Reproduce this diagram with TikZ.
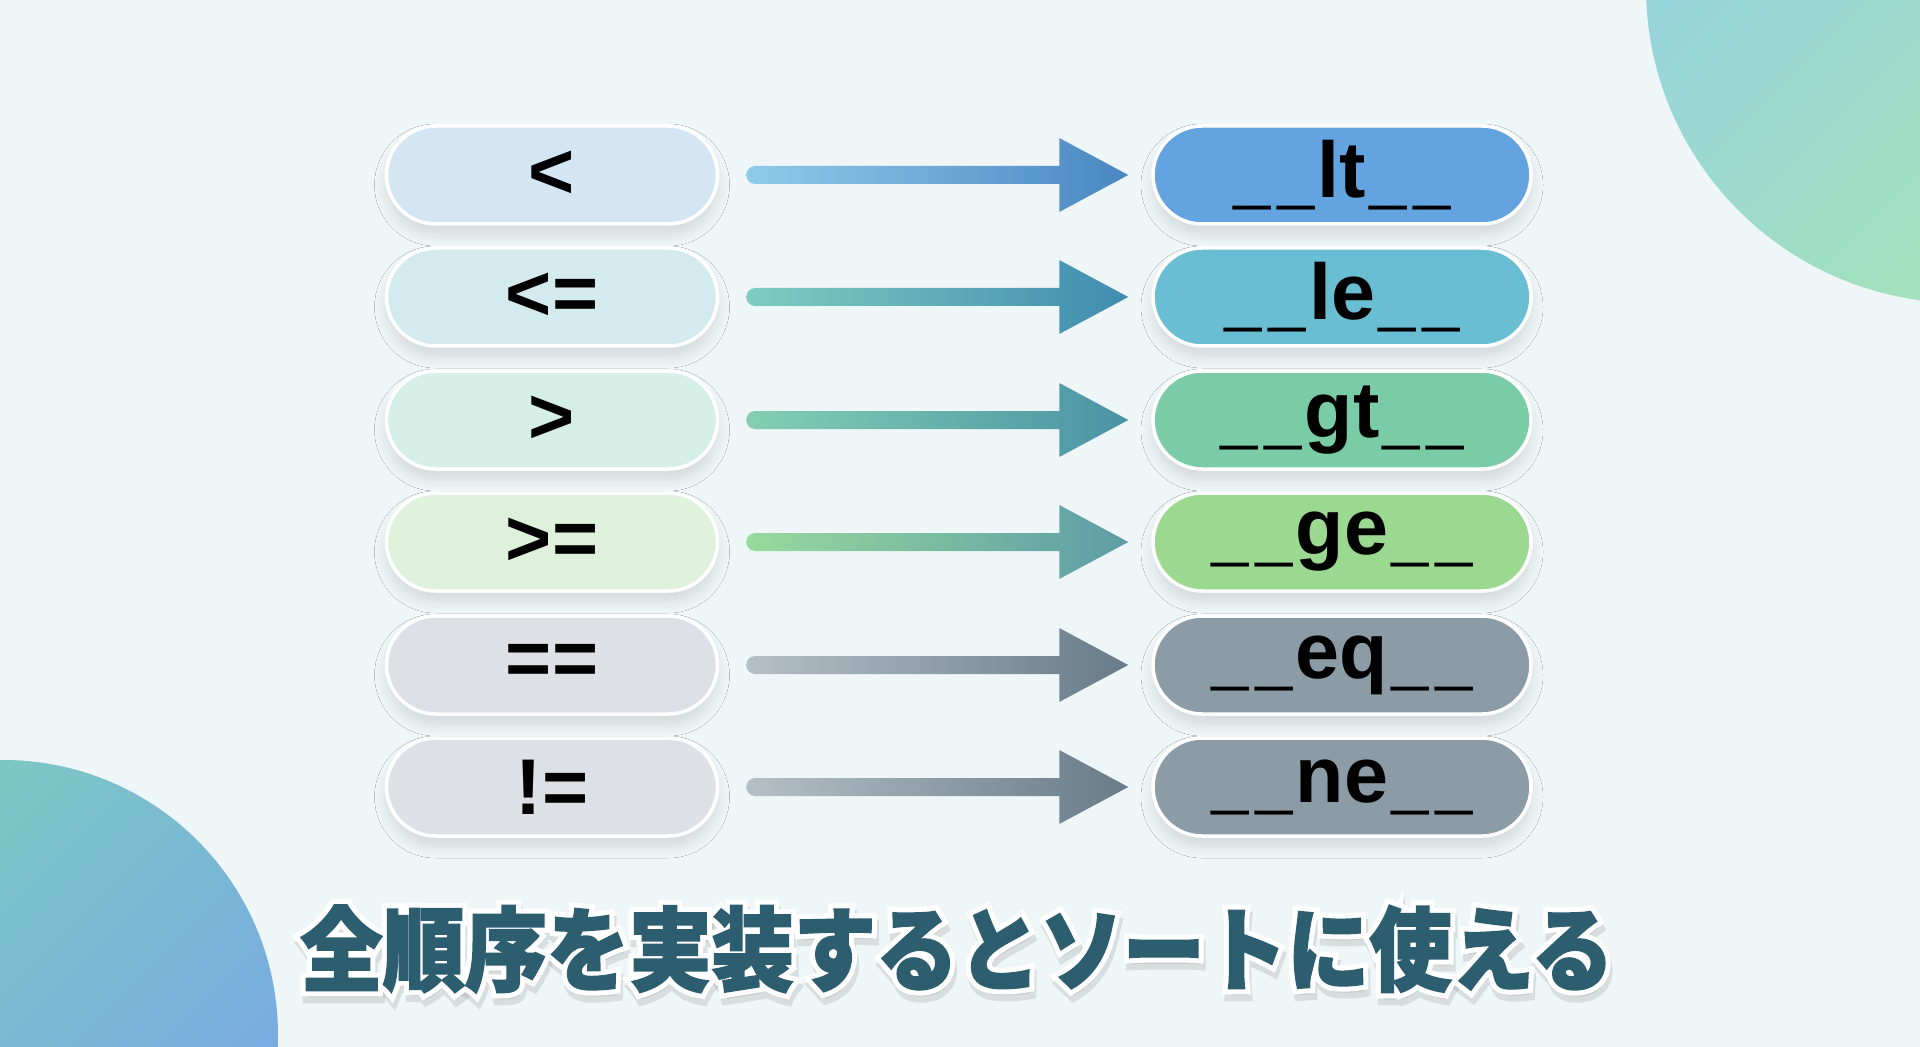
\documentclass[tikz,border=0pt]{standalone}
\usepackage{fontspec}
\setmainfont{Liberation Sans}
\newfontfamily\cjk[FakeStretch=0.9, FakeBold=2]{Noto Sans CJK JP}
\newfontfamily\cjkhalo[FakeStretch=0.9, FakeBold=13]{Noto Sans CJK JP}
\usetikzlibrary{calc, shadows.blur}
\definecolor{cmp_bg}{RGB}{239, 246, 247}
\definecolor{cmp_title}{RGB}{44, 94, 112}
\definecolor{cmp_lt_soft}{RGB}{212, 229, 244}
\definecolor{cmp_le_soft}{RGB}{211, 235, 239}
\definecolor{cmp_gt_soft}{RGB}{213, 239, 231}
\definecolor{cmp_ge_soft}{RGB}{221, 241, 219}
\definecolor{cmp_eq_soft}{RGB}{221, 225, 229}
\definecolor{cmp_lt}{RGB}{99, 163, 224}
\definecolor{cmp_le}{RGB}{105, 190, 211}
\definecolor{cmp_gt}{RGB}{121, 204, 165}
\definecolor{cmp_ge}{RGB}{154, 217, 143}
\definecolor{cmp_eq}{RGB}{140, 156, 166}
\definecolor{arr_lt_a}{RGB}{143, 203, 234}
\definecolor{arr_lt_b}{RGB}{74, 135, 194}
\definecolor{arr_le_a}{RGB}{126, 205, 192}
\definecolor{arr_le_b}{RGB}{63, 140, 176}
\definecolor{arr_gt_a}{RGB}{132, 207, 178}
\definecolor{arr_gt_b}{RGB}{74, 147, 166}
\definecolor{arr_ge_a}{RGB}{152, 218, 156}
\definecolor{arr_ge_b}{RGB}{92, 156, 167}
\definecolor{arr_eq_a}{RGB}{181, 192, 198}
\definecolor{arr_eq_b}{RGB}{103, 123, 137}
\definecolor{blob_blue}{RGB}{148, 208, 228}
\definecolor{blob_green}{RGB}{167, 229, 178}
\definecolor{blob_teal}{RGB}{125, 205, 190}
\definecolor{blob_sky}{RGB}{120, 166, 230}

% one underscore, a bit narrower and heavier, in its own slot
\newcommand{\dunder}{\makebox[0.556em]{\scalebox{0.85}[1.3]{\_}}}

% shaded arrow from the east side of #1 to the west side of #2
\newcommand{\cmparrow}[4]{%
  \shade[left color=#3, right color=#4]
    ($(#1.east)+(36,-9)$) -- ($(#2.west)+(-92,-9)$) -- ($(#2.west)+(-92,-37)$)
    -- ($(#2.west)+(-23,0)$) -- ($(#2.west)+(-92,37)$) -- ($(#2.west)+(-92,9)$)
    -- ($(#1.east)+(36,9)$) arc[start angle=90, end angle=270, radius=9] -- cycle;}

\begin{document}
\begin{tikzpicture}[x=0.1mm, y=-0.1mm,
          pill/.style={draw=white, line width=0.35mm, rounded corners=4.9mm,
                       minimum height=9.8mm, inner sep=0pt,
                       font=\bfseries\fontsize{22.5}{27}\selectfont,
                       blur shadow={shadow xshift=0pt, shadow yshift=-1mm,
                                    shadow opacity=12, shadow blur steps=10,
                                    shadow blur radius=1.2mm}},
          opl/.style={pill, minimum width=33.1mm},
          mth/.style={pill, minimum width=37.8mm},
          captext/.style={font=\fontsize{26}{30}\selectfont}]
          \useasboundingbox (0,0) rectangle (1920,1047);
          \clip (0,0) rectangle (1920,1047);
          \fill[cmp_bg] (0,0) rectangle (1920,1047);
          % corner blobs
          \shade[top color=blob_blue, bottom color=blob_green, shading angle=45]
            (1962,-13) circle[radius=316];
          \shade[top color=blob_teal, bottom color=blob_sky, shading angle=45]
            (3,1035) circle[radius=275];
          % operators
          \node[opl, fill=cmp_lt_soft] (oplt) at (552, 175) {<};
          \node[opl, fill=cmp_le_soft] (ople) at (552, 297) {<=};
          \node[opl, fill=cmp_gt_soft] (opgt) at (552, 420) {>};
          \node[opl, fill=cmp_ge_soft] (opge) at (552, 542) {>=};
          \node[opl, fill=cmp_eq_soft] (opeq) at (552, 665) {==};
          \node[opl, fill=cmp_eq_soft] (opne) at (552, 787) {!=};
          % special methods
          \node[mth, fill=cmp_lt] (mlt) at (1342, 175) {\dunder\dunder lt\dunder\dunder};
          \node[mth, fill=cmp_le] (mle) at (1342, 297) {\dunder\dunder le\dunder\dunder};
          \node[mth, fill=cmp_gt] (mgt) at (1342, 420) {\dunder\dunder gt\dunder\dunder};
          \node[mth, fill=cmp_ge] (mge) at (1342, 542) {\dunder\dunder ge\dunder\dunder};
          \node[mth, fill=cmp_eq] (meq) at (1342, 665) {\dunder\dunder eq\dunder\dunder};
          \node[mth, fill=cmp_eq] (mne) at (1342, 787) {\dunder\dunder ne\dunder\dunder};
          \cmparrow{oplt}{mlt}{arr_lt_a}{arr_lt_b}
          \cmparrow{ople}{mle}{arr_le_a}{arr_le_b}
          \cmparrow{opgt}{mgt}{arr_gt_a}{arr_gt_b}
          \cmparrow{opge}{mge}{arr_ge_a}{arr_ge_b}
          \cmparrow{opeq}{meq}{arr_eq_a}{arr_eq_b}
          \cmparrow{opne}{mne}{arr_eq_a}{arr_eq_b}
          % caption: shadow, white halo, then the text
          \node[captext, text=black!60, opacity=0.16] (capshade) at (959, 956)
            {\cjkhalo\bfseries 全順序を実装するとソートに使える};
          \node[captext, text=white] (caphalo) at (957, 949)
            {\cjkhalo\bfseries 全順序を実装するとソートに使える};
          \node[captext, text=cmp_title] (caption) at (957, 949)
            {\cjk\bfseries 全順序を実装するとソートに使える};
        \end{tikzpicture}
\end{document}
